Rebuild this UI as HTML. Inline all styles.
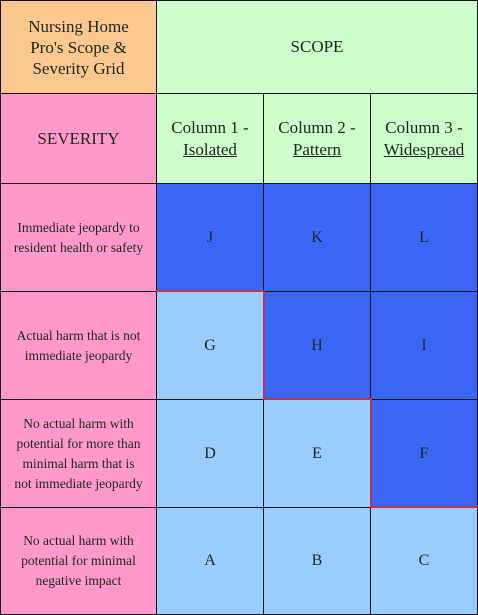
<!DOCTYPE html>
<html><head><meta charset="utf-8"><style>
body{margin:0;width:478px;height:615px;background:#fff;position:relative;overflow:hidden;font-family:"Liberation Serif",serif;}
.c{position:absolute;box-sizing:border-box;border-right:1px solid #111;border-bottom:1px solid #111;display:flex;align-items:center;justify-content:center;text-align:center;color:#1a2a1a;}
.c span{display:block;white-space:nowrap;}
.r{position:absolute;background:#c8304a;}
</style></head><body>
<div class="c" style="left:0;top:0;width:157px;height:94px;background:#fcc890;font-size:17px;line-height:21px;border-left:1px solid #111;border-top:1px solid #111"><span>Nursing Home<br>Pro's Scope &amp;<br>Severity Grid</span></div>
<div class="c" style="left:157px;top:0;width:321px;height:94px;background:#ccffcc;font-size:17px;border-top:1px solid #111"><span>SCOPE</span></div>
<div class="c" style="left:0;top:94px;width:157px;height:90px;background:#ff99cc;font-size:17px;border-left:1px solid #111"><span>SEVERITY</span></div>
<div class="c" style="left:157px;top:94px;width:107px;height:90px;background:#ccffcc;font-size:17px;line-height:22px"><span>Column 1 -<br><u>Isolated</u></span></div>
<div class="c" style="left:264px;top:94px;width:107px;height:90px;background:#ccffcc;font-size:17px;line-height:22px"><span>Column 2 -<br><u>Pattern</u></span></div>
<div class="c" style="left:371px;top:94px;width:107px;height:90px;background:#ccffcc;font-size:17px;line-height:22px"><span>Column 3 -<br><u>Widespread</u></span></div>

<div class="c" style="left:0;top:184px;width:157px;height:108px;background:#ff99cc;font-size:13.5px;line-height:20px;border-left:1px solid #111"><span>Immediate jeopardy to<br>resident health or safety</span></div>
<div class="c" style="left:157px;top:184px;width:107px;height:108px;background:#3a66f5;font-size:16px"><span>J</span></div>
<div class="c" style="left:264px;top:184px;width:107px;height:108px;background:#3a66f5;font-size:16px"><span>K</span></div>
<div class="c" style="left:371px;top:184px;width:107px;height:108px;background:#3a66f5;font-size:16px"><span>L</span></div>

<div class="c" style="left:0;top:292px;width:157px;height:108px;background:#ff99cc;font-size:13.5px;line-height:20px;border-left:1px solid #111"><span>Actual harm that is not<br>immediate jeopardy</span></div>
<div class="c" style="left:157px;top:292px;width:107px;height:108px;background:#99ccff;font-size:16px"><span>G</span></div>
<div class="c" style="left:264px;top:292px;width:107px;height:108px;background:#3a66f5;font-size:16px"><span>H</span></div>
<div class="c" style="left:371px;top:292px;width:107px;height:108px;background:#3a66f5;font-size:16px"><span>I</span></div>

<div class="c" style="left:0;top:400px;width:157px;height:108px;background:#ff99cc;font-size:13.5px;line-height:20px;border-left:1px solid #111"><span>No actual harm with<br>potential for more than<br>minimal harm that is<br>not immediate jeopardy</span></div>
<div class="c" style="left:157px;top:400px;width:107px;height:108px;background:#99ccff;font-size:16px"><span>D</span></div>
<div class="c" style="left:264px;top:400px;width:107px;height:108px;background:#99ccff;font-size:16px"><span>E</span></div>
<div class="c" style="left:371px;top:400px;width:107px;height:108px;background:#3a66f5;font-size:16px"><span>F</span></div>

<div class="c" style="left:0;top:508px;width:157px;height:107px;background:#ff99cc;font-size:13.5px;line-height:20px;border-left:1px solid #111"><span>No actual harm with<br>potential for minimal<br>negative impact</span></div>
<div class="c" style="left:157px;top:508px;width:107px;height:107px;background:#99ccff;font-size:16px"><span>A</span></div>
<div class="c" style="left:264px;top:508px;width:107px;height:107px;background:#99ccff;font-size:16px"><span>B</span></div>
<div class="c" style="left:371px;top:508px;width:107px;height:107px;background:#99ccff;font-size:16px"><span>C</span></div>

<div class="r" style="left:156px;top:290px;width:109px;height:2px"></div>
<div class="r" style="left:263px;top:290px;width:2px;height:110px"></div>
<div class="r" style="left:263px;top:398px;width:109px;height:2px"></div>
<div class="r" style="left:370px;top:398px;width:2px;height:110px"></div>
<div class="r" style="left:370px;top:506px;width:108px;height:2px"></div>
</body></html>
